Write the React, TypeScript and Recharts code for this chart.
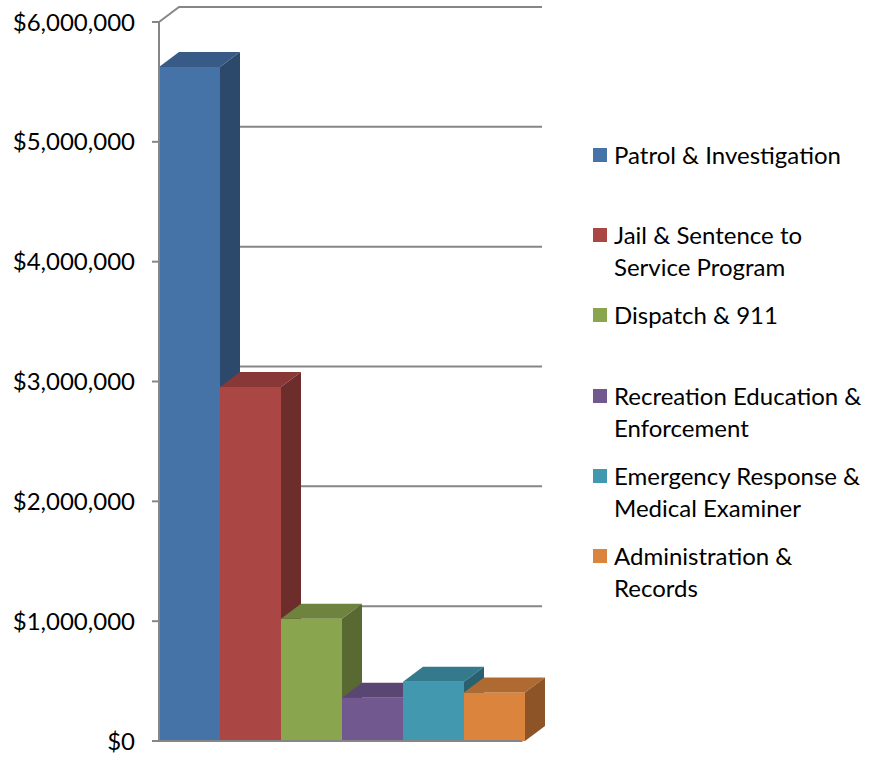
import React from 'react';
import { BarChart, Bar, XAxis, YAxis, CartesianGrid } from 'recharts';

// Budget by program (one category, one series per program)
const PROGRAMS = [
  'Patrol & Investigation',
  'Jail & Sentence to\nService Program',
  'Dispatch & 911',
  'Recreation Education &\nEnforcement',
  'Emergency Response &\nMedical Examiner',
  'Administration &\nRecords',
];
const BUDGETS = [5625000, 2955000, 1020000, 360000, 495000, 405000];
const COLORS = ['#4572A7', '#AA4643', '#89A54E', '#71588F', '#4198AF', '#DB843D'];
const Y_TICKS = [0, 1000000, 2000000, 3000000, 4000000, 5000000, 6000000];

const data = [
  PROGRAMS.reduce((row: any, _p, i) => {
    row['s' + i] = BUDGETS[i];
    return row;
  }, { name: 'Budget' }),
];

const DX = 20;
const DY = 15;
const GRID = '#868686';
const FONT = 'Lato, "Open Sans", sans-serif';

const shade = (hex: string, f: number) => {
  const n = parseInt(hex.slice(1), 16);
  const r = Math.round(((n >> 16) & 255) * f);
  const g = Math.round(((n >> 8) & 255) * f);
  const b = Math.round((n & 255) * f);
  return `rgb(${r},${g},${b})`;
};

const Box3D = (props: any) => {
  const { x, y, width: w, height: h, fill } = props;
  if (h == null || w == null) return null;
  return (
    <g>
      <rect x={x} y={y} width={w} height={h} fill={fill} />
      <polygon
        points={`${x},${y} ${x + DX},${y - DY} ${x + w + DX},${y - DY} ${x + w},${y}`}
        fill={shade(fill, 0.8)}
      />
      <polygon
        points={`${x + w},${y} ${x + w + DX},${y - DY} ${x + w + DX},${y + h - DY} ${x + w},${y + h}`}
        fill={shade(fill, 0.64)}
      />
    </g>
  );
};

const BackWallLine = (props: any) => {
  const { x1, y1, x2, index } = props;
  if (index === 0 || Math.abs(y1 - 741) < 1) {
    // floor: right edge only
    return <line key={`g-${index}`} x1={x2} y1={y1} x2={x2 + DX} y2={y1 - DY} stroke={GRID} strokeWidth={2} />;
  }
  return (
    <polyline
      key={`g-${index}`}
      points={`${x1},${y1} ${x1 + DX},${y1 - DY} ${x2 + DX},${y1 - DY}`}
      fill="none"
      stroke={GRID}
      strokeWidth={2}
    />
  );
};

const LegendBlock = () => (
  <div style={{ position: 'absolute', left: 593, top: 0, fontFamily: FONT, fontSize: 24, color: '#000' }}>
    {PROGRAMS.map((p, i) => {
      const top = 155 + i * 80.2;
      return (
        <div key={p} style={{ position: 'absolute', left: 0, top: top - 16, whiteSpace: 'nowrap' }}>
          <div style={{ position: 'absolute', left: 0, top: 9, width: 14, height: 14, background: COLORS[i] }} />
          {p.split('\n').map((line, j) => (
            <div key={j} style={{ position: 'absolute', left: 21, top: j * 32, lineHeight: '32px' }}>
              {line}
            </div>
          ))}
        </div>
      );
    })}
  </div>
);

export default function App() {
  return (
    <div style={{ position: 'absolute', left: 0, top: 0, width: 871, height: 757, background: '#fff' }}>
      <BarChart
        width={871}
        height={757}
        data={data}
        margin={{ top: 22, right: 349, bottom: 0, left: 0 }}
        barCategoryGap={0}
        barGap={0}
      >
        <CartesianGrid vertical={false} horizontal={BackWallLine} />
        <XAxis dataKey="name" tick={false} tickLine={false} height={16} axisLine={{ stroke: GRID, strokeWidth: 2 }} />
        <YAxis
          width={159}
          domain={[0, 6000000]}
          ticks={Y_TICKS}
          interval={0}
          tickFormatter={(v: number) => '$' + v.toLocaleString('en-US')}
          tickSize={7}
          tickMargin={17}
          axisLine={{ stroke: GRID, strokeWidth: 2 }}
          tickLine={{ stroke: GRID, strokeWidth: 2 }}
          tick={{ fill: '#000', fontSize: 24, fontFamily: FONT }}
        />
        {PROGRAMS.map((p, i) => (
          <Bar key={p} dataKey={'s' + i} name={p} fill={COLORS[i]} shape={Box3D} isAnimationActive={false} />
        ))}
      </BarChart>
      <LegendBlock />
    </div>
  );
}
